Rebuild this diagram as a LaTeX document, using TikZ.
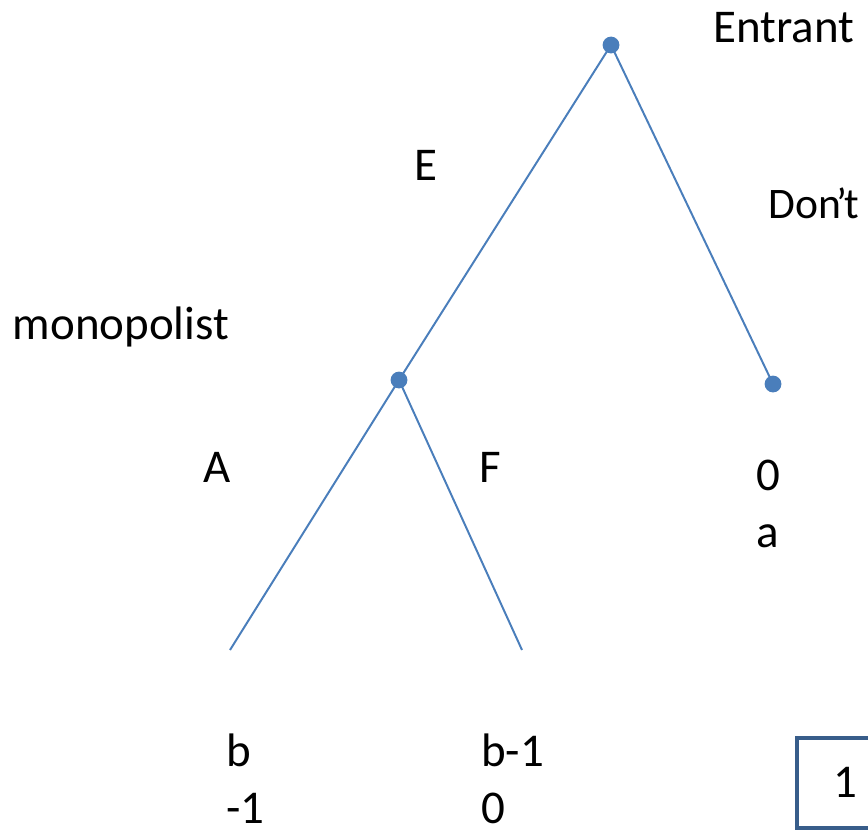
\documentclass[tikz,border=0pt]{standalone}
\usepackage{fontspec}
\setmainfont{Carlito}
\usepackage{tikz}
\usetikzlibrary{positioning}
\definecolor{branchblue}{HTML}{4A7EBB}
\definecolor{boxblue}{HTML}{385D8A}
\tikzset{
  dec/.style={circle, fill=branchblue, inner sep=0pt, minimum size=0.42cm},
  lbl/.style={font=\fontsize{33.4}{40}\selectfont, inner sep=0pt},
  pay/.style={lbl, align=left, anchor=north west},
}

\begin{document}
\begin{tikzpicture}[x=0.025cm, y=-0.025cm,
  branch/.style={branchblue, line width=1.4pt},
]
  \clip (0,0) rectangle (868,829);
  \useasboundingbox (0,0) rectangle (868,829);

  % decision nodes
  \node[dec] (root) at (611,45) {};
  \node[dec] (mono) at (399,380) {};
  \node[dec] (out) at (773,384) {};
  \coordinate (acc) at (230,650);
  \coordinate (fight) at (522,650);

  \draw[branch] (root.center) -- (mono.center);
  \draw[branch] (root.center) -- (out.center);
  \draw[branch] (mono.center) -- (acc);
  \draw[branch] (mono.center) -- (fight);

  % players and moves
  \node[lbl] (entrant) at (784,28) {Entrant};
  \node[lbl] (monolbl) at (121,327) {monopolist};
  \node[lbl] (elbl) at (426,165) {E};
  \node[lbl, anchor=west] (dlbl) at (768,203)
    {\fontsize{31}{37}\selectfont Don\kern-0.1em’\kern-0.06em t};
  \node[lbl] (albl) at (217,467) {A};
  \node[lbl] (flbl) at (490,467) {F};

  % payoffs
  \node[pay] (payout) at (756,460) {0\\a};
  \node[pay] (payacc) at (226,734) {b\\-1};
  \node[pay] (payfight) at (481,734) {b-1\\0};

  \node[draw=boxblue, line width=2.8pt, minimum width=2.5cm, minimum height=2.25cm,
        lbl, anchor=north west] (tag) at (795,736) {};
  \node[lbl] (taglbl) at (845,782) {1};
\end{tikzpicture}
\end{document}
